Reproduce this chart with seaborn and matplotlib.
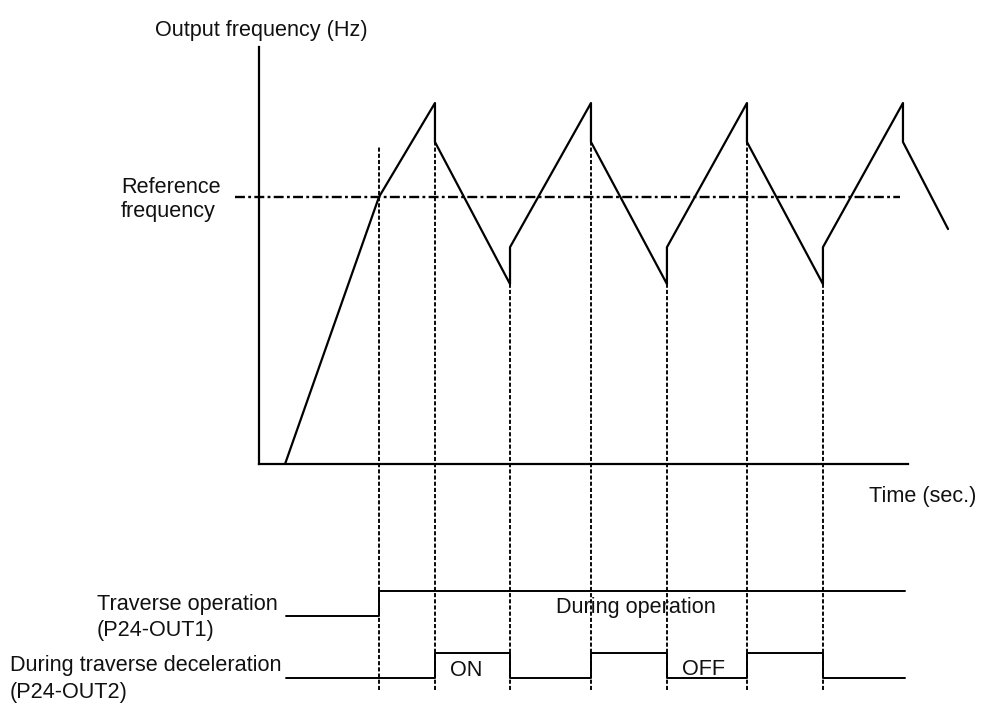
import matplotlib
matplotlib.use("Agg")
import matplotlib.pyplot as plt
import seaborn as sns

# ---------------- data (time in s, frequency in Hz) ----------------
freq_time = [1.67, 7.69, 11.28, 11.28, 16.09, 16.09, 21.28, 21.28, 26.15, 26.15,
             31.28, 31.28, 36.15, 36.15, 41.28, 41.28, 44.17]
freq_value = [0.0, 50.0, 67.6, 60.3, 33.7, 40.6, 67.6, 60.3, 33.7, 40.6,
              67.6, 60.3, 33.7, 40.6, 67.6, 60.3, 44.0]
reference_freq = 50.0
reference_span = [-1.54, 41.09]

event_time = [7.69, 11.28, 16.09, 21.28, 26.15, 31.28, 36.15]
event_top = [59.4, 60.3, 33.7, 60.3, 33.7, 60.3, 33.7]

traverse_time = [1.73, 7.69, 41.41]
traverse_state = [0, 1, 1]
decel_time = [1.73, 11.28, 16.09, 21.28, 26.15, 31.28, 36.15, 41.41]
decel_state = [0, 1, 0, 1, 0, 1, 0, 0]

title_text = "Output frequency (Hz)"
ref_text = ["Reference", "frequency"]
time_text = "Time (sec.)"
sig1_text = ["Traverse operation", "(P24-OUT1)"]
sig2_text = ["During traverse deceleration", "(P24-OUT2)"]
state_texts = ["During operation", "ON", "OFF"]

# ---------------- style ----------------
sns.set_theme(style="white")
plt.rcParams["font.family"] = ["Liberation Sans", "DejaVu Sans"]

W, H = 981, 704
fig = plt.figure(figsize=(W / 100, H / 100), dpi=100)

# main axes placed in pixel layout
x0, x1, yb, yt = 259, 908, 464, 47
ax = fig.add_axes([x0 / W, (H - yb) / H, (x1 - x0) / W, (yb - yt) / H])
PX_T = 15.6   # px per second
PX_F = 5.34   # px per Hz
ax.set_xlim(0, (x1 - x0) / PX_T)
ax.set_ylim(0, (yb - yt) / PX_F)
ax.set_xticks([])
ax.set_yticks([])
sns.despine(ax=ax, top=True, right=True)
for s in ("left", "bottom"):
    ax.spines[s].set_color("black")
    ax.spines[s].set_linewidth(1.6)


def ypx(p):
    """pixel row -> data y of main axes"""
    return (yb - p) / PX_F


LW = 1.6
# frequency waveform
sns.lineplot(x=freq_time, y=freq_value, sort=False, estimator=None,
             color="black", lw=LW, ax=ax, clip_on=False, legend=False)
# reference frequency dash-dot
ax.plot(reference_span, [reference_freq, reference_freq], color="black",
        lw=1.7, linestyle=(0, (4.2, 1.4, 1.2, 1.4)), clip_on=False)
# event markers
ax.vlines(event_time, ypx(690), event_top, colors="black", lw=1.35,
          linestyles=[(0, (2.2, 1.1))], clip_on=False)

# signals
AMP = 25 / PX_F
lvl1 = ypx(616)
lvl2 = ypx(678)
sns.lineplot(x=traverse_time, y=[lvl1 + AMP * s for s in traverse_state],
             sort=False, estimator=None, drawstyle="steps-post",
             color="black", lw=1.4, ax=ax, clip_on=False, legend=False)
sns.lineplot(x=decel_time, y=[lvl2 + AMP * s for s in decel_state],
             sort=False, estimator=None, drawstyle="steps-post",
             color="black", lw=1.4, ax=ax, clip_on=False, legend=False)

# ---------------- texts (pixel positions, baseline) ----------------
FS = 15.6


def txt(x, y, s, ha="left"):
    fig.text(x / W, 1 - y / H, s, ha=ha, va="baseline", fontsize=FS,
             color="#111111")


txt(155, 36, title_text)
txt(121, 193, ref_text[0])
txt(121, 217, ref_text[1])
txt(869, 502, time_text)
txt(97, 610, sig1_text[0])
txt(97, 636, sig1_text[1])
txt(10, 671, sig2_text[0])
txt(10, 698, sig2_text[1])
txt(556, 613, state_texts[0])
txt(450, 676, state_texts[1])
txt(682, 675, state_texts[2])

fig.savefig("out.png", dpi=100)
